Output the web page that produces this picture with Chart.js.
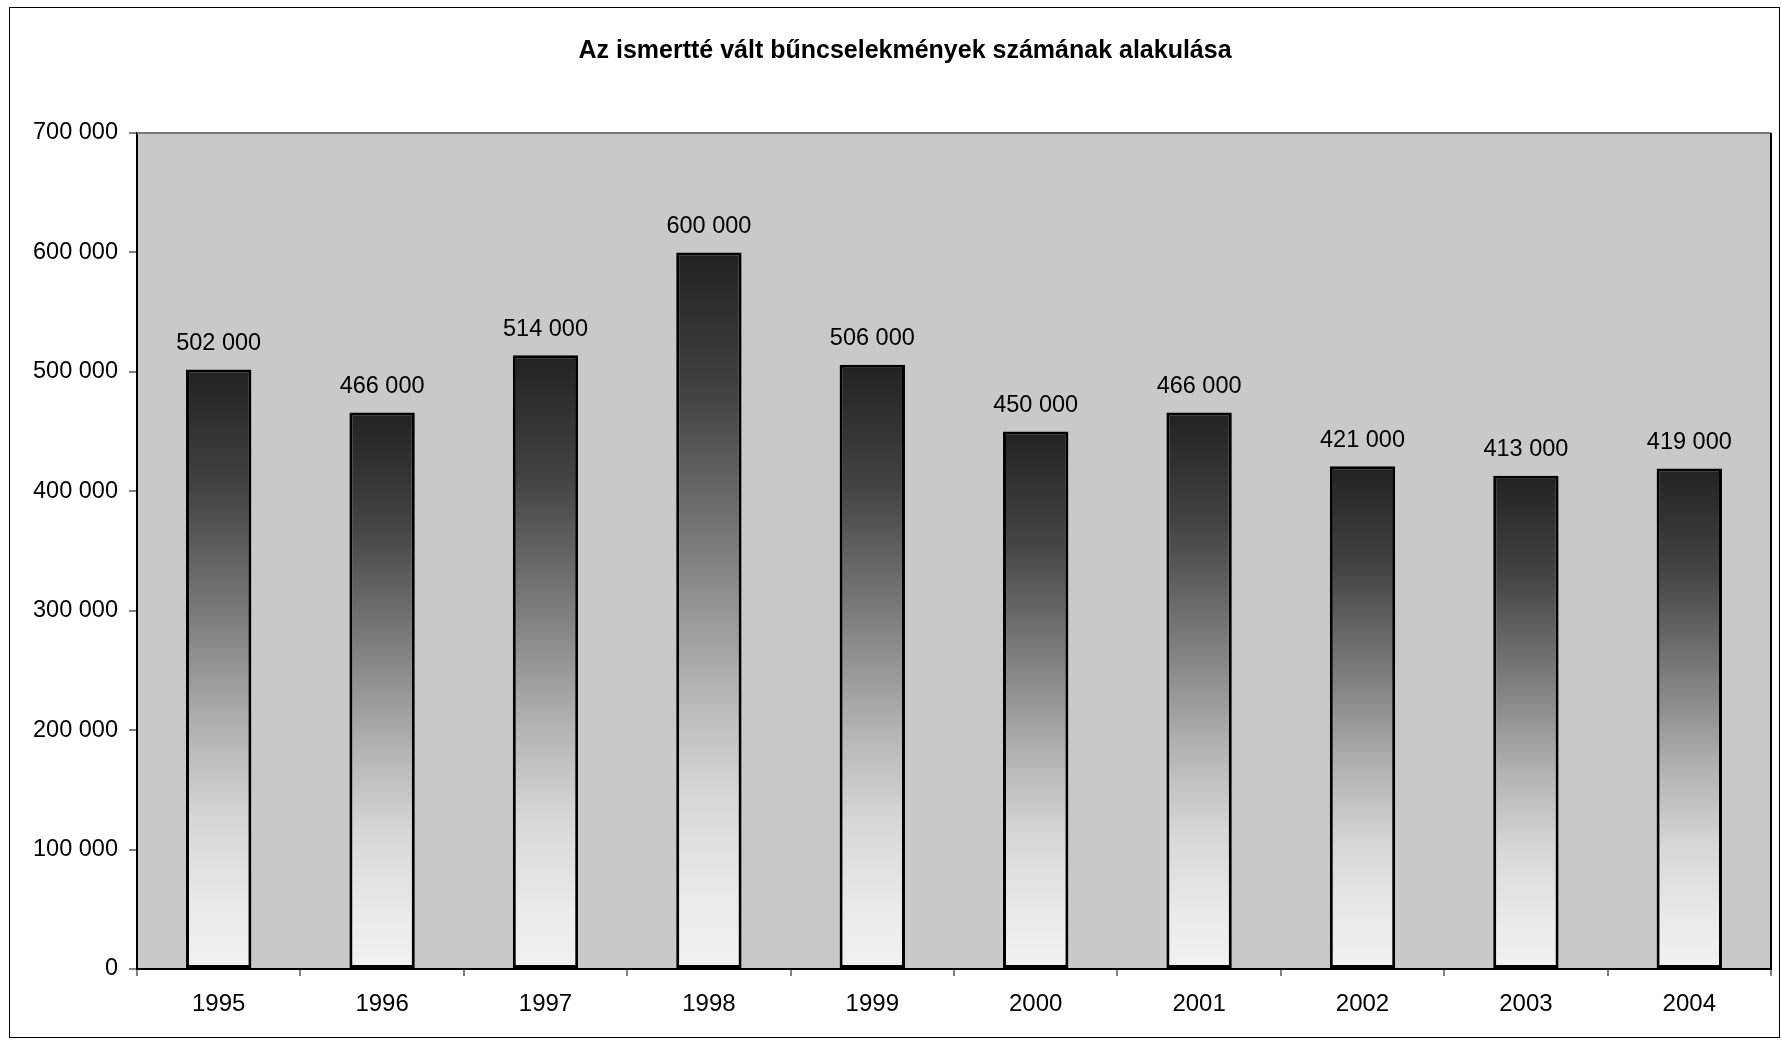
<!DOCTYPE html>
<html>
<head>
<meta charset="utf-8">
<script src="https://cdn.jsdelivr.net/npm/chart.js@4"></script>
<style>
    html, body { margin: 0; padding: 0; background: #fff; }
    #wrap { width: 1782px; height: 1040px; }
</style>
</head>
<body>
<div id="wrap"><canvas id="chart" width="1782" height="1040"></canvas></div>
<script>
const chartTitle = "Az ismertté vált bűncselekmények számának alakulása";
const years = ["1995", "1996", "1997", "1998", "1999", "2000", "2001", "2002", "2003", "2004"];
const crimes = [502000, 466000, 514000, 600000, 506000, 450000, 466000, 421000, 413000, 419000];
const yTicks = [0, 100000, 200000, 300000, 400000, 500000, 600000, 700000];

const fontFamily = "'Liberation Sans', Arial, sans-serif";

// 502000 -> "502 000"
function formatNumber(v) {
    return String(v).replace(/\B(?=(\d{3})+(?!\d))/g, " ");
}

function barGradient(context) {
    let chart = context.chart;
    let yScale = chart.scales.y;
    if (context.type !== 'data' || !yScale || !chart.chartArea)
        return '#777';
    let top = yScale.getPixelForValue(context.raw);
    let base = yScale.getPixelForValue(0);
    let g = chart.ctx.createLinearGradient(0, top, 0, base);
    g.addColorStop(0, '#222222');
    g.addColorStop(0.2, '#434343');
    g.addColorStop(0.4, '#797979');
    g.addColorStop(0.6, '#b2b2b2');
    g.addColorStop(0.75, '#d6d6d6');
    g.addColorStop(0.9, '#eaeaea');
    g.addColorStop(1, '#f1f1f1');
    return g;
}

// plot background, plot frame, outer chart frame and the title
const framePlugin = {
    id: 'frame',
    beforeDraw(chart) {
        let ctx = chart.ctx;
        let a = chart.chartArea;
        ctx.save();
        ctx.fillStyle = '#c9c9c9';
        ctx.fillRect(a.left, a.top, a.right - a.left, a.bottom - a.top);
        ctx.lineWidth = 1;
        ctx.strokeStyle = '#000';
        ctx.strokeRect(9.5, 7.5, chart.width - 12, chart.height - 10);
        ctx.font = "bold 25px " + fontFamily;
        ctx.fillStyle = '#000';
        ctx.textAlign = 'center';
        ctx.textBaseline = 'middle';
        ctx.fillText(chartTitle, 905, 51);
        ctx.restore();
    },
    afterDatasetsDraw(chart) {
        let ctx = chart.ctx;
        let a = chart.chartArea;
        ctx.save();
        ctx.lineWidth = 2;
        ctx.strokeStyle = '#777';
        ctx.beginPath();
        ctx.moveTo(a.left, a.top);
        ctx.lineTo(a.right, a.top);
        ctx.stroke();
        ctx.strokeStyle = '#000';
        ctx.beginPath();
        ctx.moveTo(a.right, a.top);
        ctx.lineTo(a.right, a.bottom);
        ctx.stroke();
        ctx.restore();
    }
};

// value labels above each bar
const valueLabels = {
    id: 'valueLabels',
    afterDatasetsDraw(chart) {
        let ctx = chart.ctx;
        let meta = chart.getDatasetMeta(0);
        ctx.save();
        ctx.font = "23.5px " + fontFamily;
        ctx.fillStyle = '#000';
        ctx.textAlign = 'center';
        ctx.textBaseline = 'middle';
        meta.data.forEach((bar, i) => {
            ctx.fillText(formatNumber(crimes[i]), bar.x, bar.y - 26);
        });
        ctx.restore();
    }
};

new Chart(document.getElementById('chart'), {
    type: 'bar',
    data: {
        labels: years,
        datasets: [{
            data: crimes,
            backgroundColor: barGradient,
            borderColor: '#000',
            borderWidth: 3,
            borderSkipped: false,
            barPercentage: 0.4,
            categoryPercentage: 1
        }]
    },
    options: {
        responsive: false,
        animation: false,
        layout: { padding: { left: 0, right: 11, top: 133, bottom: 0 } },
        plugins: {
            legend: { display: false },
            tooltip: { enabled: false },
            title: { display: false }
        },
        scales: {
            x: {
                offset: true,
                grid: {
                    offset: true,
                    drawOnChartArea: false,
                    drawTicks: true,
                    tickLength: 7,
                    color: '#808080',
                    lineWidth: 2
                },
                border: { display: true, color: '#000', width: 2 },
                ticks: {
                    color: '#000',
                    padding: 14,
                    maxRotation: 0,
                    font: { family: fontFamily, size: 24 }
                },
                afterFit(scale) { scale.height = 71; }
            },
            y: {
                min: 0,
                max: 700000,
                afterBuildTicks(scale) {
                    scale.ticks = yTicks.map(v => ({ value: v }));
                },
                grid: {
                    drawOnChartArea: false,
                    drawTicks: true,
                    tickLength: 8,
                    color: '#808080',
                    lineWidth: 2
                },
                border: { display: true, color: '#000', width: 2 },
                ticks: {
                    color: '#000',
                    padding: 11,
                    font: { family: fontFamily, size: 23.5 },
                    callback: v => formatNumber(v)
                },
                afterFit(scale) { scale.width = 137; }
            }
        }
    },
    plugins: [framePlugin, valueLabels]
});
</script>
</body>
</html>
